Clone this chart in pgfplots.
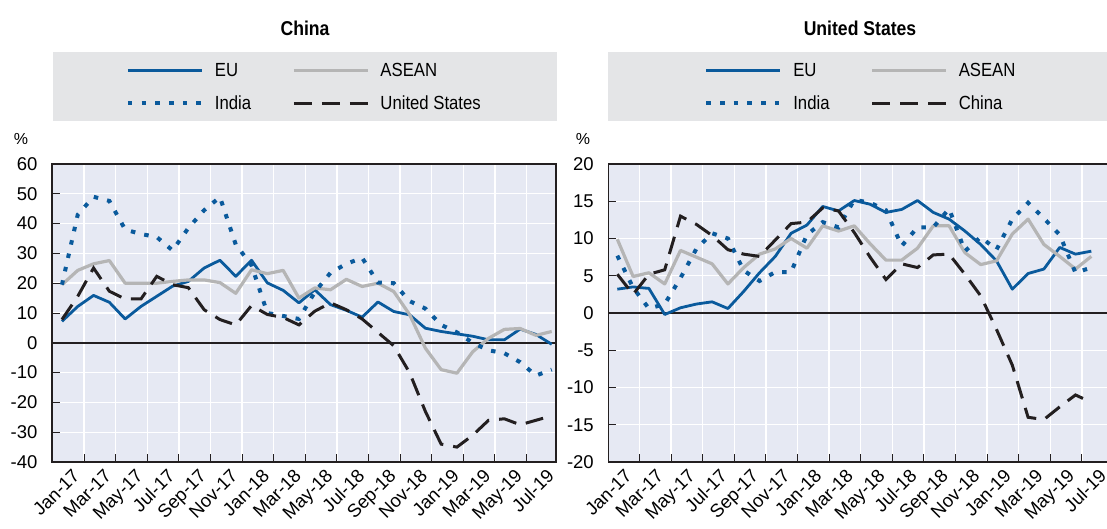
\documentclass[border=0pt]{standalone}
\usepackage{fontspec}
\setmainfont{Liberation Sans}
\newfontfamily\narrowfont{Liberation Sans}[FakeStretch=0.88]
\usepackage{pgfplots}
\pgfplotsset{compat=1.18}
\definecolor{oblue}{HTML}{0A5A9C}
\definecolor{ogray}{HTML}{B5B5B5}
\definecolor{oblack}{HTML}{231F20}
\definecolor{plotbg}{HTML}{E6E9F3}
\definecolor{legbg}{HTML}{E4E5E7}
\pgfplotsset{
  panel/.style={
    scale only axis, anchor=south west,
    width=504pt, height=298pt,
    axis background/.style={fill=plotbg},
    axis line style={draw=oblack, line width=1.6pt},
    ymajorgrids, xmajorgrids,
    major grid style={white, line width=1.4pt},
    tick align=inside, major tick length=8pt,
    tick style={draw=oblack, line width=1pt},
    xtick pos=bottom, ytick pos=left,
    xtick={1.4,3.4,5.4,7.4,9.4,11.4,13.4,15.4,17.4,19.4,21.4,23.4,25.4,27.4,29.4},
    xticklabels={},
    extra x tick labels={Jan-17,Mar-17,May-17,Jul-17,Sep-17,Nov-17,Jan-18,Mar-18,May-18,Jul-18,Sep-18,Nov-18,Jan-19,Mar-19,May-19,Jul-19},
    extra x tick style={major tick length=0pt, xmajorgrids=false,
      xticklabel style={rotate=45, anchor=north east, font=\fontsize{18.5}{20}\selectfont, inner sep=1pt, yshift=-6pt}},
    /pgf/number format/assume math mode=true,
    yticklabel style={font=\fontsize{18.5}{20}\selectfont, xshift=-11pt},
    legend columns=2,
    legend cell align=left,
    legend image code/.code={\draw[##1] (0pt,0pt) -- (74pt,0pt);},
    legend style={draw=none, fill=none, inner sep=0pt, outer sep=0pt,
      font=\narrowfont\fontsize{19}{22}\selectfont, row sep=14pt,
      /tikz/every odd column/.append style={column sep=9pt},
      /tikz/every even column/.append style={column sep=39pt}},
  },
  eu/.style={oblue, line width=2.8pt, line join=round},
  asean/.style={ogray, line width=3.2pt, line join=round},
  india/.style={oblue, line width=4pt, dash pattern=on 4.5pt off 9.2pt},
  dashedl/.style={oblack, line width=3pt, dash pattern=on 18pt off 10pt},
}
\begin{document}
\begin{tikzpicture}
\useasboundingbox (0,0) rectangle (1107pt,528pt);
\fill[legbg] (53pt,407pt) rectangle (557pt,476pt);
\fill[legbg] (608pt,407pt) rectangle (1112pt,476pt);
\node[font=\narrowfont\bfseries\fontsize{20}{24}\selectfont] at (305pt,500pt) {China};
\node[font=\narrowfont\bfseries\fontsize{20}{24}\selectfont] at (860pt,500pt) {United States};
\node[font=\fontsize{16}{18}\selectfont] at (21pt,389pt) {\%};
\node[font=\fontsize{16}{18}\selectfont] at (583pt,389pt) {\%};
% China panel
\begin{axis}[panel, at={(52pt,66pt)},
  xmin=-0.63, xmax=31.27, ymin=-40, ymax=60, ytick={-40,-30,...,60},
  extra x ticks={0.35,2.35,4.35,6.35,8.35,10.35,12.35,14.35,16.35,18.35,20.35,22.35,24.35,26.35,28.35,30.35},
  legend style={at={(0.1468,1.2584)}, anchor=west}]
\draw[oblack, line width=1.8pt] (axis cs:-2,0) -- (axis cs:40,0);
\addplot[eu] coordinates {(0,7.2)(1,12.2)(2,15.9)(3,13.6)(4,8.0)(5,12.2)(6,15.6)(7,19.0)(8,20.6)(9,25.1)(10,27.7)(11,22.3)(12,27.7)(13,20.1)(14,17.6)(15,13.4)(16,17.8)(17,12.8)(18,10.9)(19,8.6)(20,13.7)(21,10.5)(22,9.4)(23,4.9)(24,3.8)(25,3.0)(26,2.2)(27,1.0)(28,1.0)(29,4.6)(30,2.8)(31,-0.5)};
\addlegendentry{EU}
\addplot[asean] coordinates {(0,19.5)(1,24.3)(2,26.5)(3,27.6)(4,20.0)(5,20.0)(6,20.0)(7,20.6)(8,21.1)(9,21.1)(10,20.2)(11,16.6)(12,24.5)(13,23.2)(14,24.3)(15,15.0)(16,18.4)(17,17.8)(18,21.3)(19,18.9)(20,20.0)(21,17.2)(22,9.5)(23,-1.8)(24,-9.0)(25,-10.2)(26,-3.0)(27,1.5)(28,4.5)(29,4.8)(30,2.5)(31,3.8)};
\addlegendentry{ASEAN}
\addplot[india] coordinates {(0,19.5)(1,43)(2,49)(3,47.6)(4,38)(5,36.5)(6,35.5)(7,31)(8,38.5)(9,44.5)(10,48.9)(11,33)(12,26)(13,10)(14,9)(15,8)(16,17)(17,23.5)(18,26.5)(19,28.5)(20,20.2)(21,20)(22,14)(23,11.5)(24,6)(25,3.5)(26,0)(27,-2.5)(28,-3.5)(29,-6.5)(30,-11)(31,-9)};
\addlegendentry{India}
\addplot[dashedl] coordinates {(0,7.8)(1,15.6)(2,25.1)(3,17.3)(4,14.7)(5,14.7)(6,22.3)(7,19.5)(8,18.5)(9,11.1)(10,7.8)(11,6.0)(12,12.5)(13,9.5)(14,8.5)(15,6.0)(16,10.6)(17,13.4)(18,11.1)(19,8.0)(20,3.5)(21,-1)(22,-10)(23,-23)(24,-34)(25,-35)(26,-31)(27,-26)(28,-25.5)(29,-27.5)(30,-26)(31,-24.5)};
\addlegendentry{United States}
\end{axis}
% United States panel
\begin{axis}[panel, at={(608.3pt,66pt)},
  xmin=-0.57, xmax=31.33, ymin=-20, ymax=20, ytick={-20,-15,...,20},
  extra x ticks={0.15,2.15,4.15,6.15,8.15,10.15,12.15,14.15,16.15,18.15,20.15,22.15,24.15,26.15,28.15,30.15},
  legend style={at={(0.1905,1.2584)}, anchor=west}]
\draw[oblack, line width=1.8pt] (axis cs:-2,0) -- (axis cs:40,0);
\addplot[eu] coordinates {(0,3.2)(1,3.5)(2,3.3)(3,-0.2)(4,0.7)(5,1.2)(6,1.5)(7,0.6)(8,2.9)(9,5.4)(10,7.6)(11,10.7)(12,11.8)(13,14.3)(14,13.7)(15,15.1)(16,14.6)(17,13.5)(18,13.9)(19,15.1)(20,13.5)(21,12.6)(22,11.0)(23,9.2)(24,7.0)(25,3.2)(26,5.3)(27,5.9)(28,8.8)(29,7.9)(30,8.3)};
\addlegendentry{EU}
\addplot[asean] coordinates {(0,9.9)(1,4.9)(2,5.4)(3,3.9)(4,8.4)(5,7.5)(6,6.6)(7,3.9)(8,6.1)(9,7.9)(10,8.6)(11,10.0)(12,8.7)(13,11.7)(14,11.0)(15,11.7)(16,9.3)(17,7.1)(18,7.1)(19,8.7)(20,11.7)(21,11.7)(22,8.1)(23,6.5)(24,7.0)(25,10.6)(26,12.6)(27,9.2)(28,7.6)(29,5.9)(30,7.6)};
\addlegendentry{ASEAN}
\addplot[india] coordinates {(0,7.7)(1,3.4)(2,0.6)(3,1.2)(4,4.7)(5,8.6)(6,10.7)(7,10.0)(8,5.7)(9,4.3)(10,5.5)(11,5.5)(12,10.5)(13,12.2)(14,11.5)(15,15.2)(16,14.8)(17,13.8)(18,9.0)(19,11.5)(20,11.5)(21,14.0)(22,8.3)(23,10.2)(24,8.5)(25,12.6)(26,14.8)(27,12.7)(28,10.5)(29,5.4)(30,6.1)};
\addlegendentry{India}
\addplot[dashedl] coordinates {(0,5.2)(1,2.5)(2,5.2)(3,5.8)(4,13.0)(5,11.9)(6,10.4)(7,8.5)(8,7.9)(9,7.6)(10,9.8)(11,12.0)(12,12.2)(13,14.1)(14,13.7)(15,10.8)(16,7.5)(17,4.5)(18,6.6)(19,6.1)(20,7.8)(21,7.9)(22,5.2)(23,2.3)(24,-2.2)(25,-7.0)(26,-14.0)(27,-14.3)(28,-12.6)(29,-11.0)(30,-12.0)};
\addlegendentry{China}
\end{axis}
\end{tikzpicture}
\end{document}
